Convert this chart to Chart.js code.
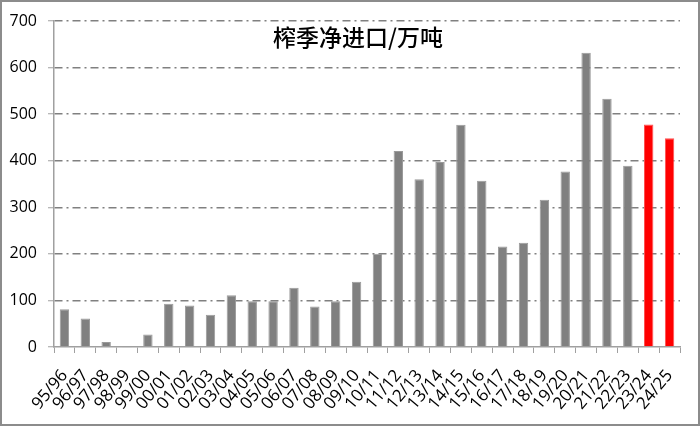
<!DOCTYPE html>
<html>
<head>
<meta charset="UTF-8">
<title>榨季净进口</title>
<script src="https://cdn.jsdelivr.net/npm/chart.js@4.4.0/dist/chart.umd.min.js"></script>
<style>
  html, body { margin: 0; padding: 0; background: #fff; }
  #wrap { position: relative; width: 700px; height: 426px; outline: 2px solid #8c8c8c; outline-offset: -2px; }
</style>
</head>
<body>
<div id="wrap"><canvas id="grafico"></canvas></div>
<script>
// 榨季 (crop seasons) and net imports, 万吨
var seasons = ['95/96','96/97','97/98','98/99','99/00','00/01','01/02','02/03','03/04','04/05',
               '05/06','06/07','07/08','08/09','09/10','10/11','11/12','12/13','13/14','14/15',
               '15/16','16/17','17/18','18/19','19/20','20/21','21/22','22/23','23/24','24/25'];
var netImport = [81, 61, 11, -2, 27, 93, 89, 69, 111, 98,
                 98, 127, 87, 98, 140, 200, 421, 360, 397, 477,
                 357, 216, 224, 316, 377, 632, 533, 389, 478, 448];
var forecastSeasons = ['23/24', '24/25'];
var yMax = 700;
var yStep = 100;
var titleText = '榨季净进口/万吨';

var barColors = seasons.map(function (s) {
  return forecastSeasons.indexOf(s) >= 0 ? '#ff0000' : '#808080';
});
var barBorders = seasons.map(function (s) {
  return forecastSeasons.indexOf(s) >= 0 ? '#ff5050' : '#9a9a9a';
});

var titlePlugin = {
  id: 'titulo',
  afterDraw: function (chart) {
    var ctx = chart.ctx;
    ctx.save();
    ctx.font = '500 23px "Noto Sans CJK SC"';
    ctx.fillStyle = '#000';
    ctx.textAlign = 'center';
    ctx.textBaseline = 'middle';
    ctx.fillText(titleText, 358, 37);
    ctx.restore();
  }
};

new Chart(document.getElementById('grafico'), {
  type: 'bar',
  data: {
    labels: seasons,
    datasets: [{
      data: netImport,
      backgroundColor: barColors,
      borderColor: barBorders,
      borderWidth: 1,
      barPercentage: 0.45,
      categoryPercentage: 1,
      clip: false
    }]
  },
  options: {
    responsive: true,
    maintainAspectRatio: false,
    animation: false,
    layout: { padding: { left: 0, right: 20, top: 21, bottom: 0 } },
    plugins: {
      legend: { display: false },
      tooltip: { enabled: false },
      title: { display: false }
    },
    scales: {
      x: {
        afterFit: function (s) { s.height = 79; },
        grid: { drawOnChartArea: false, drawTicks: true, tickLength: 6, color: '#a0a0a0', lineWidth: 1 },
        border: { display: true, color: '#a0a0a0', width: 1.5 },
        ticks: {
          autoSkip: false, minRotation: 50, maxRotation: 50, padding: 13,
          color: '#000', font: { family: '"Open Sans"', size: 17 }
        }
      },
      y: {
        min: 0, max: yMax,
        afterFit: function (s) { s.width = 54; },
        grid: {
          color: function (c) { return c.tick && c.tick.value === 0 ? 'rgba(0,0,0,0)' : '#808080'; },
          lineWidth: 1.5, tickLength: 6, tickColor: '#a0a0a0', tickWidth: 1
        },
        border: { display: true, color: '#a0a0a0', width: 1.5, dash: [8, 4, 2, 4] },
        ticks: { stepSize: yStep, padding: 11, color: '#000', font: { family: '"Open Sans"', size: 16 } }
      }
    }
  },
  plugins: [titlePlugin]
});
</script>
</body>
</html>
